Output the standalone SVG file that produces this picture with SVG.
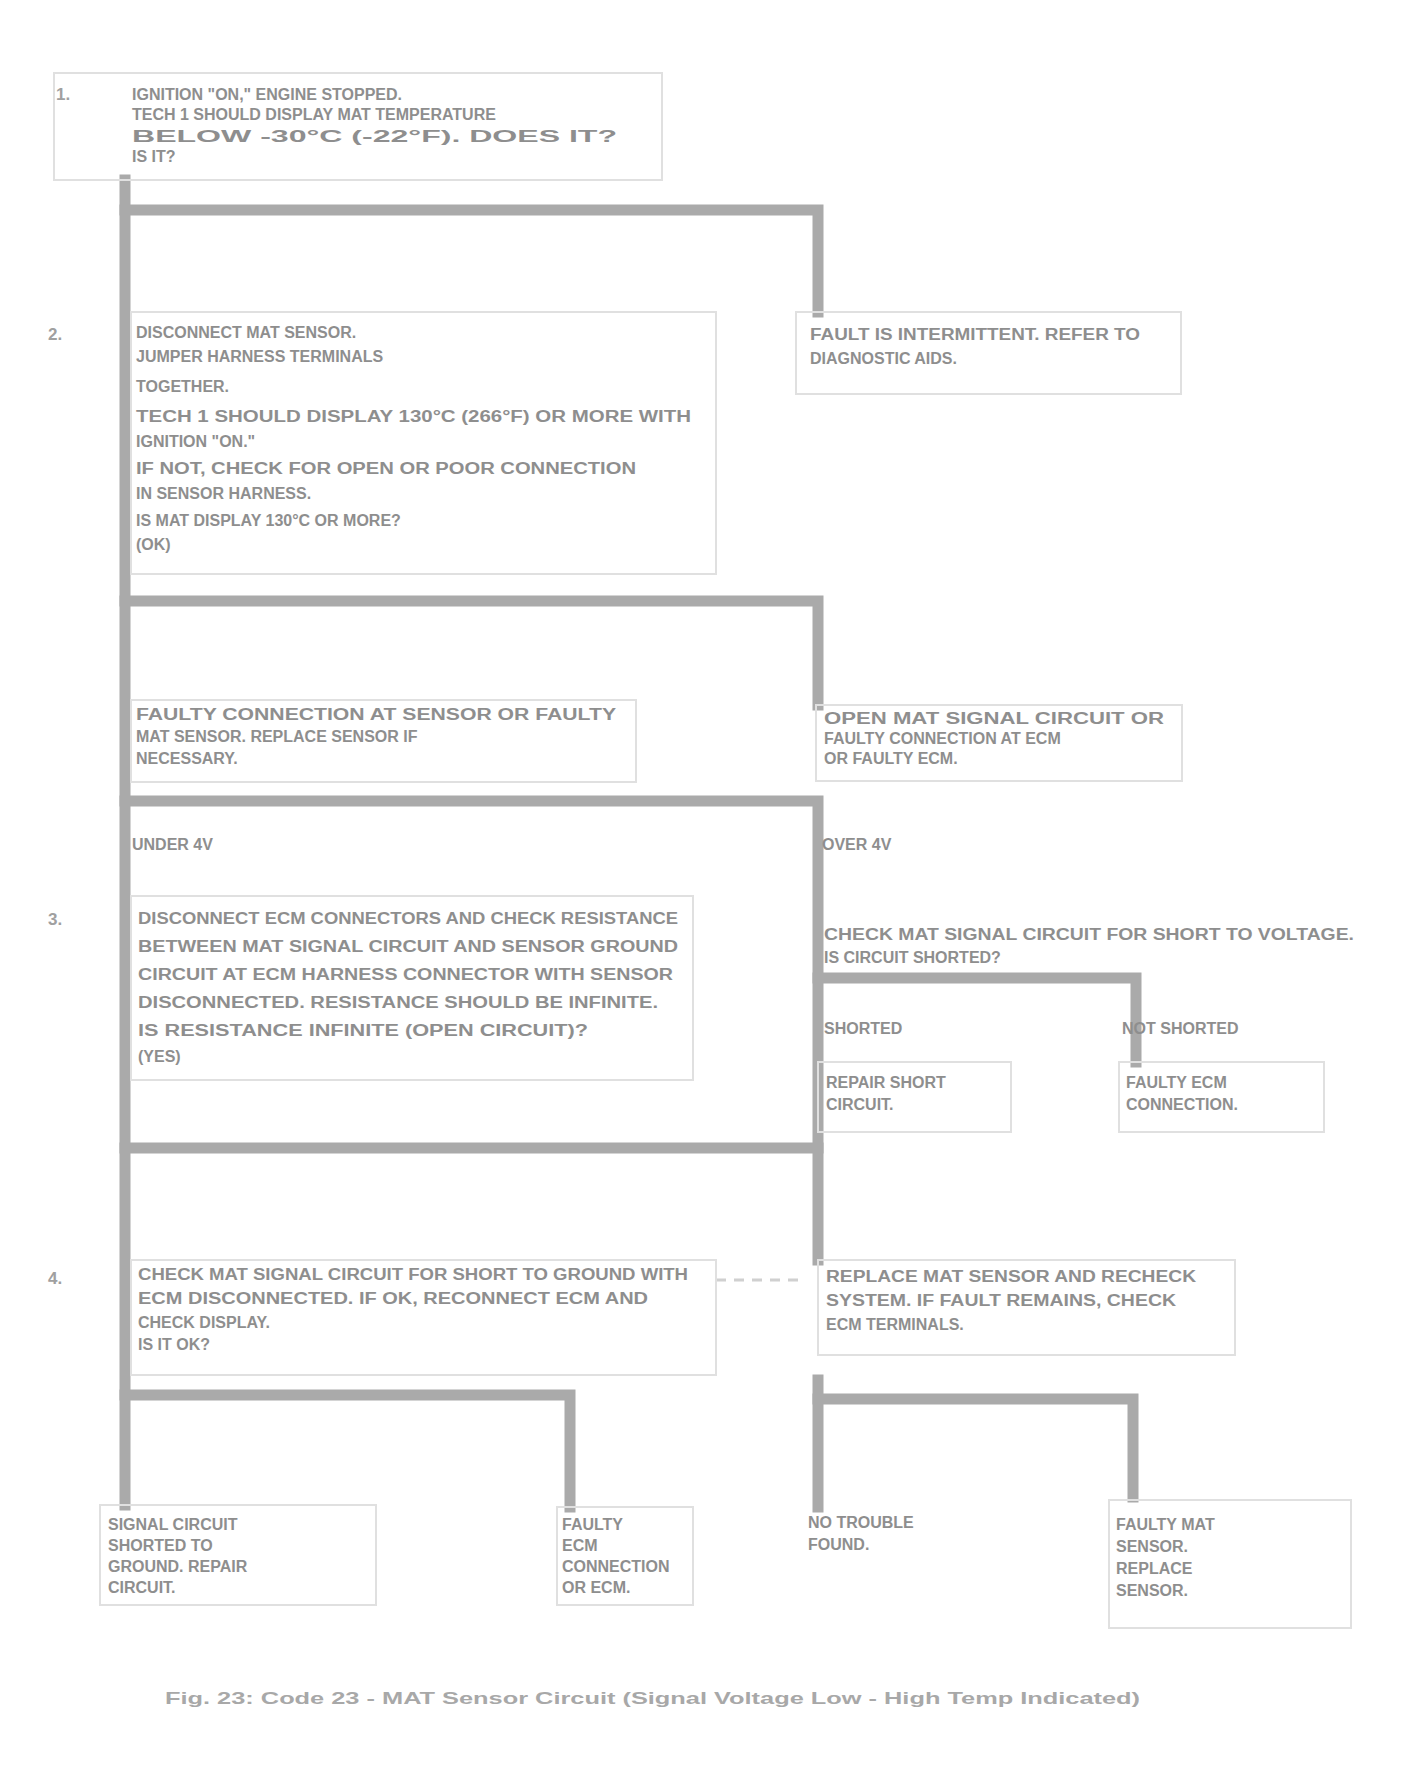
<svg xmlns="http://www.w3.org/2000/svg" width="1402" height="1783" viewBox="0 0 1402 1783">
<style>
.ln{stroke:#aaaaaa;stroke-width:11;fill:none;stroke-linecap:square}
.bx{fill:none;stroke:#e0e0e0;stroke-width:2}
.t{font-family:"Liberation Sans",Arial,sans-serif;font-size:16px;font-weight:bold;fill:#8e8e8e}
.n{font-family:"Liberation Sans",Arial,sans-serif;font-size:17px;font-weight:bold;fill:#a0a0a0}
.cap{font-family:"Liberation Sans",Arial,sans-serif;font-size:17px;font-weight:bold;fill:#a8a8a8}
</style>
<rect width="1402" height="1783" fill="#ffffff"/>
<g id="connectors">
<path class="ln" d="M125 180 V1505"/>
<path class="ln" d="M125 210 H818 V312"/>
<path class="ln" d="M125 601 H818 V705"/>
<path class="ln" d="M125 801 H818 V1260"/>
<path class="ln" d="M818 978 H1136 V1062"/>
<path class="ln" d="M125 1148 H818"/>
<path class="ln" d="M818 1380 V1507"/>
<path class="ln" d="M125 1395 H570 V1507"/>
<path class="ln" d="M818 1399 H1133 V1497"/>
<path d="M716 1280 H805" stroke="#d0d0d0" stroke-width="3" stroke-dasharray="10 8" fill="none"/>
</g>
<g id="step1">
<rect class="bx" x="54" y="73" width="608" height="107"/>
<text class="n" x="56" y="100">1.</text>
<text class="t" x="132" y="100">IGNITION "ON," ENGINE STOPPED.</text>
<text class="t" x="132" y="120">TECH 1 SHOULD DISPLAY MAT TEMPERATURE</text>
<text class="t" x="132" y="142" textLength="485" lengthAdjust="spacingAndGlyphs">BELOW -30°C (-22°F). DOES IT?</text>
<text class="t" x="132" y="162">IS IT?</text>
</g>
<g id="result1">
<rect class="bx" x="796" y="312" width="385" height="82"/>
<text class="t" x="810" y="340" textLength="330" lengthAdjust="spacingAndGlyphs">FAULT IS INTERMITTENT. REFER TO</text>
<text class="t" x="810" y="364">DIAGNOSTIC AIDS.</text>
</g>
<g id="step2">
<rect class="bx" x="131" y="312" width="585" height="262"/>
<text class="n" x="48" y="340">2.</text>
<text class="t" x="136" y="338">DISCONNECT MAT SENSOR.</text>
<text class="t" x="136" y="362">JUMPER HARNESS TERMINALS</text>
<text class="t" x="136" y="392">TOGETHER.</text>
<text class="t" x="136" y="422" textLength="555" lengthAdjust="spacingAndGlyphs">TECH 1 SHOULD DISPLAY 130°C (266°F) OR MORE WITH</text>
<text class="t" x="136" y="447">IGNITION "ON."</text>
<text class="t" x="136" y="474" textLength="500" lengthAdjust="spacingAndGlyphs">IF NOT, CHECK FOR OPEN OR POOR CONNECTION</text>
<text class="t" x="136" y="499">IN SENSOR HARNESS.</text>
<text class="t" x="136" y="526">IS MAT DISPLAY 130°C OR MORE?</text>
<text class="t" x="136" y="550">(OK)</text>
</g>
<g id="result2a">
<rect class="bx" x="131" y="700" width="505" height="82"/>
<text class="t" x="136" y="720" textLength="480" lengthAdjust="spacingAndGlyphs">FAULTY CONNECTION AT SENSOR OR FAULTY</text>
<text class="t" x="136" y="742">MAT SENSOR. REPLACE SENSOR IF</text>
<text class="t" x="136" y="764">NECESSARY.</text>
</g>
<g id="result2b">
<rect class="bx" x="816" y="705" width="366" height="76"/>
<text class="t" x="824" y="724" textLength="340" lengthAdjust="spacingAndGlyphs">OPEN MAT SIGNAL CIRCUIT OR</text>
<text class="t" x="824" y="744">FAULTY CONNECTION AT ECM</text>
<text class="t" x="824" y="764">OR FAULTY ECM.</text>
</g>
<g id="labels3">
<text class="t" x="132" y="850">UNDER 4V</text>
<text class="t" x="822" y="850">OVER 4V</text>
</g>
<g id="step3">
<rect class="bx" x="131" y="896" width="562" height="184"/>
<text class="n" x="48" y="925">3.</text>
<text class="t" x="138" y="924" textLength="540" lengthAdjust="spacingAndGlyphs">DISCONNECT ECM CONNECTORS AND CHECK RESISTANCE</text>
<text class="t" x="138" y="952" textLength="540" lengthAdjust="spacingAndGlyphs">BETWEEN MAT SIGNAL CIRCUIT AND SENSOR GROUND</text>
<text class="t" x="138" y="980" textLength="535" lengthAdjust="spacingAndGlyphs">CIRCUIT AT ECM HARNESS CONNECTOR WITH SENSOR</text>
<text class="t" x="138" y="1008" textLength="520" lengthAdjust="spacingAndGlyphs">DISCONNECTED. RESISTANCE SHOULD BE INFINITE.</text>
<text class="t" x="138" y="1036" textLength="450" lengthAdjust="spacingAndGlyphs">IS RESISTANCE INFINITE (OPEN CIRCUIT)?</text>
<text class="t" x="138" y="1062">(YES)</text>
</g>
<g id="check3b">
<text class="t" x="824" y="940" textLength="530" lengthAdjust="spacingAndGlyphs">CHECK MAT SIGNAL CIRCUIT FOR SHORT TO VOLTAGE.</text>
<text class="t" x="824" y="963">IS CIRCUIT SHORTED?</text>
<text class="t" x="824" y="1034">SHORTED</text>
<text class="t" x="1122" y="1034">NOT SHORTED</text>
</g>
<g id="result3a">
<rect class="bx" x="818" y="1062" width="193" height="70"/>
<text class="t" x="826" y="1088">REPAIR SHORT</text>
<text class="t" x="826" y="1110">CIRCUIT.</text>
</g>
<g id="result3b">
<rect class="bx" x="1119" y="1062" width="205" height="70"/>
<text class="t" x="1126" y="1088">FAULTY ECM</text>
<text class="t" x="1126" y="1110">CONNECTION.</text>
</g>
<g id="step4">
<rect class="bx" x="131" y="1260" width="585" height="115"/>
<text class="n" x="48" y="1284">4.</text>
<text class="t" x="138" y="1280" textLength="550" lengthAdjust="spacingAndGlyphs">CHECK MAT SIGNAL CIRCUIT FOR SHORT TO GROUND WITH</text>
<text class="t" x="138" y="1304" textLength="510" lengthAdjust="spacingAndGlyphs">ECM DISCONNECTED. IF OK, RECONNECT ECM AND</text>
<text class="t" x="138" y="1328">CHECK DISPLAY.</text>
<text class="t" x="138" y="1350">IS IT OK?</text>
</g>
<g id="result4">
<rect class="bx" x="818" y="1260" width="417" height="95"/>
<text class="t" x="826" y="1282" textLength="370" lengthAdjust="spacingAndGlyphs">REPLACE MAT SENSOR AND RECHECK</text>
<text class="t" x="826" y="1306" textLength="350" lengthAdjust="spacingAndGlyphs">SYSTEM. IF FAULT REMAINS, CHECK</text>
<text class="t" x="826" y="1330">ECM TERMINALS.</text>
</g>
<g id="end1">
<rect class="bx" x="100" y="1505" width="276" height="100"/>
<text class="t" x="108" y="1530">SIGNAL CIRCUIT</text>
<text class="t" x="108" y="1551">SHORTED TO</text>
<text class="t" x="108" y="1572">GROUND. REPAIR</text>
<text class="t" x="108" y="1593">CIRCUIT.</text>
</g>
<g id="end2">
<rect class="bx" x="557" y="1507" width="136" height="98"/>
<text class="t" x="562" y="1530">FAULTY</text>
<text class="t" x="562" y="1551">ECM</text>
<text class="t" x="562" y="1572">CONNECTION</text>
<text class="t" x="562" y="1593">OR ECM.</text>
</g>
<g id="end3">
<text class="t" x="808" y="1528">NO TROUBLE</text>
<text class="t" x="808" y="1550">FOUND.</text>
</g>
<g id="end4">
<rect class="bx" x="1109" y="1500" width="242" height="128"/>
<text class="t" x="1116" y="1530">FAULTY MAT</text>
<text class="t" x="1116" y="1552">SENSOR.</text>
<text class="t" x="1116" y="1574">REPLACE</text>
<text class="t" x="1116" y="1596">SENSOR.</text>
</g>
<text class="cap" x="165" y="1704" textLength="975" lengthAdjust="spacingAndGlyphs">Fig. 23: Code 23 - MAT Sensor Circuit (Signal Voltage Low - High Temp Indicated)</text>
</svg>
